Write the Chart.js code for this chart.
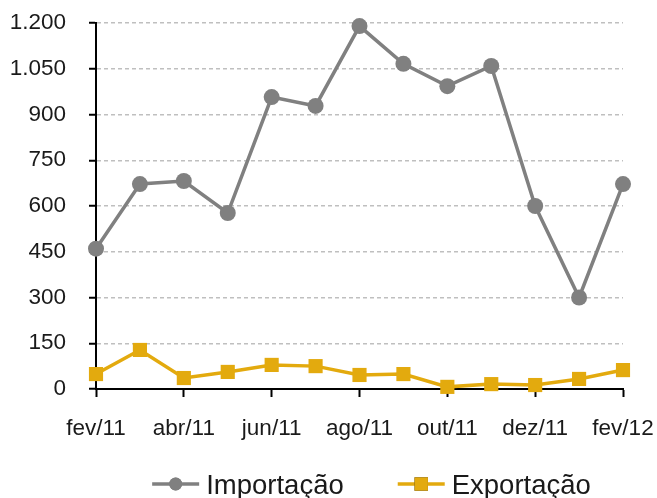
<!DOCTYPE html>
<html>
<head>
<meta charset="utf-8">
<script src="https://cdn.jsdelivr.net/npm/chart.js@4.4.0/dist/chart.umd.min.js"></script>
<style>
  html, body { margin: 0; padding: 0; background: #fff; }
  #wrap { width: 657px; height: 498px; }
</style>
</head>
<body>
<div id="wrap"><canvas id="c" width="657" height="498"></canvas></div>
<script>
// Monthly trade volumes, Feb/2011 – Feb/2012
const months = ['fev/11','mar/11','abr/11','mai/11','jun/11','jul/11','ago/11','set/11','out/11','nov/11','dez/11','jan/12','fev/12'];
const importacao = [460, 672, 682, 577, 957, 928, 1190, 1066, 993, 1059, 600, 300, 672];
const exportacao = [49, 128, 36, 56, 79, 75, 46, 49, 7, 16, 13, 33, 62];
const yTicks = [0, 150, 300, 450, 600, 750, 900, 1050, 1200];

const GRAY = '#808080';
const GOLD = '#e3aa0e';
const FONT = '"Liberation Sans", Arial, sans-serif';

// Legend drawn as line + marker + label, like the series themselves
const lineLegend = {
  id: 'lineLegend',
  afterDraw(chart) {
    const ctx = chart.ctx;
    const area = chart.chartArea;
    ctx.save();
    ctx.font = '27.5px ' + FONT;
    ctx.textBaseline = 'alphabetic';
    const lineLen = 47, textGap = 7, itemGap = 54;
    const markerRadius = { circle: 6.5, rect: 9.5 };
    const items = chart.data.datasets.map(ds => ({
      ds, w: lineLen + textGap + ctx.measureText(ds.label).width
    }));
    const total = items.reduce((s, it) => s + it.w, 0) + itemGap * (items.length - 1);
    let x = (area.left + area.right) / 2 + 12 - total / 2;
    const yMid = 484;
    items.forEach(it => {
      const ds = it.ds;
      ctx.strokeStyle = ds.borderColor;
      ctx.lineWidth = ds.borderWidth;
      ctx.beginPath();
      ctx.moveTo(x, yMid);
      ctx.lineTo(x + lineLen, yMid);
      ctx.stroke();
      Chart.helpers.drawPoint(ctx, {
        pointStyle: ds.pointStyle,
        radius: markerRadius[ds.pointStyle],
        borderWidth: 0
      }, x + lineLen / 2, yMid);
      ctx.fillStyle = ds.backgroundColor;
      ctx.fill();
      ctx.fillStyle = '#1a1a1a';
      ctx.fillText(ds.label, x + lineLen + textGap, 494);
      x += it.w + itemGap;
    });
    ctx.restore();
  }
};

new Chart(document.getElementById('c'), {
  type: 'line',
  data: {
    labels: months,
    datasets: [
      {
        label: 'Importação',
        data: importacao,
        borderColor: GRAY,
        backgroundColor: GRAY,
        borderWidth: 3.5,
        pointStyle: 'circle',
        pointRadius: 8,
        pointBorderWidth: 0,
        tension: 0,
        clip: false
      },
      {
        label: 'Exportação',
        data: exportacao,
        borderColor: GOLD,
        backgroundColor: GOLD,
        borderWidth: 3.5,
        pointStyle: 'rect',
        pointRadius: 10,
        pointBorderWidth: 0,
        tension: 0,
        clip: false
      }
    ]
  },
  options: {
    responsive: false,
    animation: false,
    events: [],
    layout: { autoPadding: false, padding: { left: 0, right: 34, top: 23, bottom: 49 } },
    plugins: { legend: { display: false }, tooltip: { enabled: false } },
    scales: {
      x: {
        type: 'category',
        offset: false,
        border: { display: true, color: '#000', width: 2 },
        grid: {
          display: true,
          drawOnChartArea: false,
          drawTicks: true,
          tickLength: 8,
          tickWidth: 2,
          tickColor: '#000'
        },
        ticks: {
          autoSkip: false,
          maxRotation: 0,
          padding: 18,
          color: '#1a1a1a',
          font: { family: FONT, size: 22.5 },
          callback(value, index) {
            return index % 2 === 0 ? months[index] : null;
          }
        },
        afterFit(scale) {
          scale.height = 60;
          scale.paddingLeft = 0;
          scale.paddingRight = 0;
        }
      },
      y: {
        min: yTicks[0],
        max: yTicks[yTicks.length - 1],
        border: { display: true, color: '#000', width: 2, dash: [4, 3] },
        grid: {
          display: true,
          drawTicks: true,
          tickLength: 7,
          tickWidth: 2,
          tickBorderDash: [],
          tickColor: '#000',
          color: ctx => (ctx.tick && ctx.tick.value === 0) ? 'rgba(0,0,0,0)' : '#bfbfbf',
          lineWidth: 1.5
        },
        afterBuildTicks(scale) {
          scale.ticks = yTicks.map(v => ({ value: v }));
        },
        ticks: {
          padding: 23,
          color: '#1a1a1a',
          font: { family: FONT, size: 22.5 },
          callback(value) {
            return value.toLocaleString('pt-BR');
          }
        },
        afterFit(scale) {
          scale.width = 96;
          scale.paddingTop = 0;
          scale.paddingBottom = 0;
        }
      }
    }
  },
  plugins: [lineLegend]
});
</script>
</body>
</html>
